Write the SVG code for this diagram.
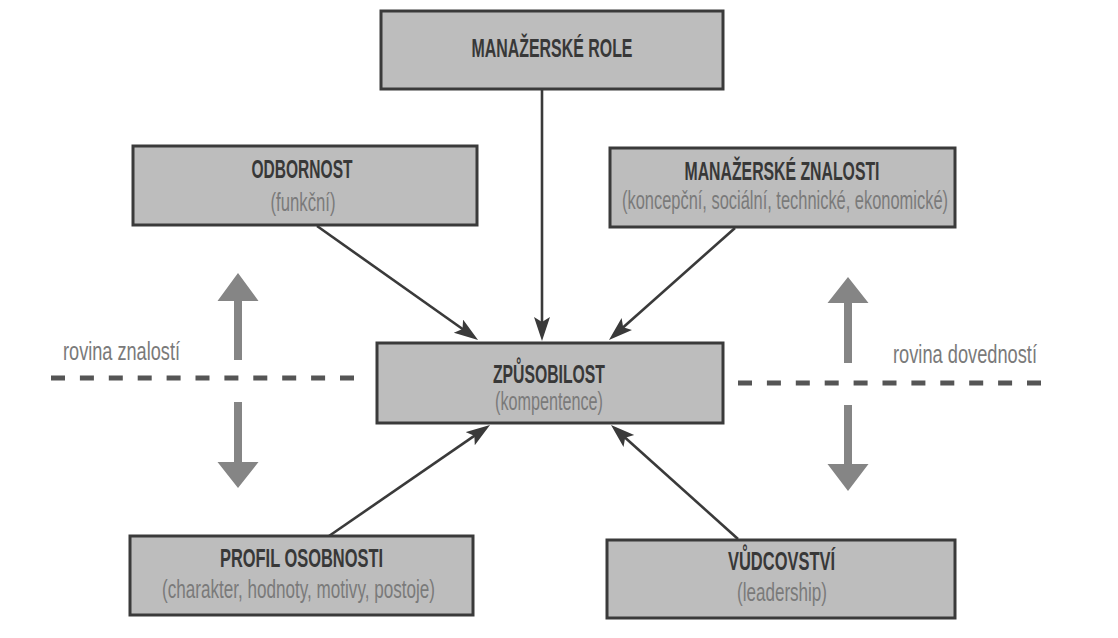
<svg xmlns="http://www.w3.org/2000/svg" width="1118" height="638" viewBox="0 0 1118 638">
  <defs>
    <style>
      .box { fill: #bdbdbd; stroke: #3a3a3a; stroke-width: 3; }
      .title { font-family: "Liberation Sans", Arial, sans-serif; font-weight: bold; font-size: 26px; fill: #383838; text-anchor: middle; }
      .sub { font-family: "Liberation Sans", Arial, sans-serif; font-size: 25px; fill: #7a7a7a; text-anchor: middle; }
      .plane { font-family: "Liberation Sans", Arial, sans-serif; font-size: 25px; fill: #7a7a7a; }
      .link { stroke: #3a3a3a; stroke-width: 2.6; fill: none; marker-end: url(#head); }
      .dash { stroke: #555555; stroke-width: 5; stroke-dasharray: 14 14.9; fill: none; }
      .big { fill: #858585; }
    </style>
    <marker id="head" markerUnits="userSpaceOnUse" markerWidth="26" markerHeight="18" refX="15" refY="8" orient="auto">
      <path d="M0,0 L24,8 L0,16 L5,8 z" fill="#3a3a3a"/>
    </marker>
  </defs>

  <rect width="1118" height="638" fill="#ffffff"/>

  <!-- connectors -->
  <g id="connectors">
    <line class="link" x1="542" y1="90" x2="542" y2="332"/>
    <line class="link" x1="317" y1="226" x2="470.7" y2="334.8"/>
    <line class="link" x1="735" y1="228" x2="615.7" y2="334"/>
    <line class="link" x1="329" y1="536" x2="482.6" y2="430.1"/>
    <line class="link" x1="738" y1="539" x2="617.7" y2="431"/>
  </g>

  <!-- planes: dashed dividers with up/down arrows -->
  <g id="plane-knowledge">
    <line class="dash" x1="51" y1="378" x2="356" y2="378"/>
    <text class="plane" x="63" y="360" textLength="117" lengthAdjust="spacingAndGlyphs">rovina znalostí</text>
    <path class="big" d="M238,273 L258.5,301 L242,301 L242,360 L234,360 L234,301 L217.5,301 z"/>
    <path class="big" d="M238,488 L258.5,462 L242,462 L242,402 L234,402 L234,462 L217.5,462 z"/>
  </g>
  <g id="plane-skills">
    <line class="dash" x1="738" y1="383" x2="1043" y2="383"/>
    <text class="plane" x="893" y="363" textLength="144" lengthAdjust="spacingAndGlyphs">rovina dovedností</text>
    <path class="big" d="M848,277 L868.5,303 L852,303 L852,363 L844,363 L844,303 L827.5,303 z"/>
    <path class="big" d="M848,491 L868.5,464 L852,464 L852,405 L844,405 L844,464 L827.5,464 z"/>
  </g>

  <!-- nodes -->
  <g id="manazerske-role">
    <rect class="box" x="381" y="11" width="342" height="78"/>
    <text class="title" x="552" y="57" textLength="161" lengthAdjust="spacingAndGlyphs">MANAŽERSKÉ ROLE</text>
  </g>
  <g id="odbornost">
    <rect class="box" x="133" y="146" width="344" height="79"/>
    <text class="title" x="302" y="178" textLength="101" lengthAdjust="spacingAndGlyphs">ODBORNOST</text>
    <text class="sub" x="303" y="211" textLength="65" lengthAdjust="spacingAndGlyphs">(funkční)</text>
  </g>
  <g id="manazerske-znalosti">
    <rect class="box" x="610" y="148" width="345" height="79"/>
    <text class="title" x="782" y="180" textLength="195" lengthAdjust="spacingAndGlyphs">MANAŽERSKÉ ZNALOSTI</text>
    <text class="sub" x="785" y="209" textLength="326" lengthAdjust="spacingAndGlyphs">(koncepční, sociální, technické, ekonomické)</text>
  </g>
  <g id="zpusobilost">
    <rect class="box" x="377" y="343" width="346" height="80"/>
    <text class="title" x="549" y="383" textLength="112" lengthAdjust="spacingAndGlyphs">ZPŮSOBILOST</text>
    <text class="sub" x="549" y="410" textLength="108" lengthAdjust="spacingAndGlyphs">(kompentence)</text>
  </g>
  <g id="profil-osobnosti">
    <rect class="box" x="130" y="536" width="343" height="79"/>
    <text class="title" x="301.5" y="567" textLength="163" lengthAdjust="spacingAndGlyphs">PROFIL OSOBNOSTI</text>
    <text class="sub" x="298.5" y="598" textLength="273" lengthAdjust="spacingAndGlyphs">(charakter, hodnoty, motivy, postoje)</text>
  </g>
  <g id="vudcovstvi">
    <rect class="box" x="607" y="540" width="348" height="78"/>
    <text class="title" x="781.5" y="570" textLength="107" lengthAdjust="spacingAndGlyphs">VŮDCOVSTVÍ</text>
    <text class="sub" x="782" y="601" textLength="90" lengthAdjust="spacingAndGlyphs">(leadership)</text>
  </g>
</svg>
